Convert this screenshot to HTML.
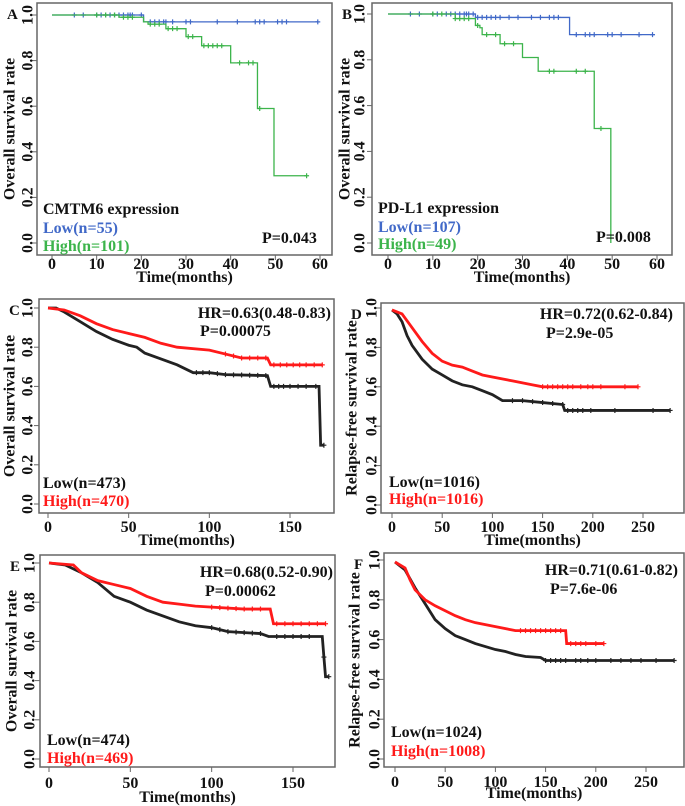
<!DOCTYPE html>
<html><head><meta charset="utf-8"><style>
body{margin:0;background:#fff;width:685px;height:806px;overflow:hidden}
svg{display:block;font-family:"Liberation Serif",serif;font-weight:bold}
</style></head><body>
<svg id="fig" width="685" height="806" viewBox="0 0 685 806"></svg>
<script>
// ---- data arrays ----
const aLowT=[0,20.5,59.5], aLowS=[1,0.97,0.97];
const aLowC=[5,7,10,11,12,13,14,15,16,17,17.5,18,20,22,23,24,25,25.5,27,30,31,37,41.5,45.5,46.5,47.5,50.5,51.5,52.5,59.5];
const aHighT=[0,15,20.5,21.5,25.5,30,33.5,40,46,49.7,57], aHighS=[1,0.99,0.97,0.96,0.94,0.905,0.865,0.79,0.59,0.295,0.295];
const aHighC=[10,12,14,16,17,18,22,23,24,26,27,28,30.5,31.5,34,35,36,37,38,42,44,45,46.5,57];
const bLowT=[0,19.5,40.5,59.5], bLowS=[1,0.985,0.91,0.91];
const bLowC=[5,7,10,11,13,14,15,16,17,17.5,18,19,20,21,22,23,24,25,27,29,32,34,36,37,38,42,44,45,46,49,50,52,56,59];
const bHighT=[0,15,19.5,20.5,21,25,30,33.5,46,49.7], bHighS=[1,0.98,0.95,0.94,0.91,0.87,0.81,0.75,0.5,0];
const bHighC=[10,12,15,16,17,18,20,22,24,26,28,36,37,42,44,47.5];
const cLowT=[0,5,10,20,30,40,50,55,60,70,80,90,100,110,136,138,168,169,171], cLowS=[1,1,0.98,0.93,0.88,0.84,0.81,0.8,0.77,0.74,0.71,0.67,0.67,0.66,0.655,0.6,0.6,0.3,0.3];
const cLowC=[92,96,100,105,110,115,120,125,130,135,140,143,146,150,155,160,166,171];
const cHighT=[0,10,20,30,40,50,60,70,80,100,110,120,136,138,170], cHighS=[1,0.99,0.96,0.92,0.89,0.87,0.85,0.82,0.8,0.785,0.765,0.745,0.745,0.71,0.71];
const cHighC=[110,115,120,125,130,135,140,144,148,152,156,160,165,170];
const dLowT=[0,5,10,15,20,30,40,50,60,70,80,90,100,110,130,150,170,172,277], dLowS=[0.99,0.97,0.93,0.86,0.81,0.74,0.69,0.66,0.63,0.61,0.6,0.58,0.56,0.53,0.53,0.52,0.51,0.48,0.48];
const dLowC=[120,130,140,150,160,170,175,180,185,190,198,222,260,277];
const dHighT=[0,10,20,30,40,50,60,70,80,90,100,120,140,150,245], dHighS=[0.99,0.97,0.9,0.83,0.77,0.73,0.71,0.7,0.68,0.66,0.65,0.63,0.61,0.6,0.6];
const dHighC=[150,155,160,165,170,175,180,188,195,200,208,232,245];
const eLowT=[0,10,20,30,40,50,60,70,80,90,100,110,130,135,168,169,170,172], eLowS=[1,0.99,0.95,0.9,0.83,0.8,0.76,0.73,0.7,0.68,0.67,0.65,0.64,0.625,0.625,0.52,0.42,0.42];
const eLowC=[100,105,110,115,120,125,130,140,145,150,155,160,169,172];
const eHighT=[0,15,20,30,40,50,60,70,80,90,100,120,136,138,170], eHighS=[1,0.99,0.95,0.91,0.89,0.87,0.83,0.8,0.79,0.78,0.775,0.765,0.765,0.69,0.69];
const eHighC=[100,105,110,115,120,125,130,140,145,150,155,160,165,170];
const fLowT=[0,10,20,30,40,50,60,70,80,90,100,110,120,130,145,150,278], fLowS=[0.99,0.95,0.86,0.78,0.7,0.655,0.62,0.6,0.58,0.565,0.55,0.54,0.525,0.515,0.51,0.495,0.495];
const fLowC=[150,155,160,165,170,180,185,192,200,215,225,235,245,260,278];
const fHighT=[0,10,15,20,30,40,50,60,70,80,90,100,115,120,170,171,208], fHighS=[0.99,0.96,0.9,0.85,0.8,0.77,0.745,0.72,0.7,0.685,0.675,0.665,0.65,0.645,0.645,0.58,0.58];
const fHighC=[125,130,135,140,145,150,155,160,165,175,180,185,190,200,208];
const yTicks=[0,0.2,0.4,0.6,0.8,1.0];
const xTicks60=[0,10,20,30,40,50,60], xTicks150=[0,50,100,150], xTicks250=[0,50,100,150,200,250];

const NS="http://www.w3.org/2000/svg", svg=document.getElementById('fig');
function el(tag,attrs,parent,text){const e=document.createElementNS(NS,tag);for(const k in attrs)e.setAttribute(k,attrs[k]);if(text!==undefined)e.textContent=text;(parent||svg).appendChild(e);return e;}

const BLUE="#4169c8",GREEN="#3cb44b",RED="#ff1a1a",BLK="#222";
const panels=[
 {id:'a',L:'A',box:[37,3,332,255],x0:52,x1:320,xmax:60,y1:15,y0:243,xt:xTicks60,tickY:269,titleY:282,ylx:28,ytx:10,ytitle:'Overall survival rate',
  s:[[aLowT,aLowS,aLowC,BLUE,'step'],[aHighT,aHighS,aHighC,GREEN,'step']],
  texts:[['CMTM6 expression',43,214,'#111','start'],['Low(n=55)',43,233,BLUE,'start'],['High(n=101)',43,251,GREEN,'start'],['P=0.043',262,243,'#111','start']]},
 {id:'b',L:'B',box:[372,3,672,255],x0:388,x1:657,xmax:60,y1:14,y0:243,xt:xTicks60,tickY:269,titleY:282,ylx:360,ytx:345,ytitle:'Overall survival rate',
  s:[[bLowT,bLowS,bLowC,BLUE,'step'],[bHighT,bHighS,bHighC,GREEN,'step']],
  texts:[['PD-L1 expression',378,213,'#111','start'],['Low(n=107)',378,232,BLUE,'start'],['High(n=49)',378,249,GREEN,'start'],['P=0.008',596,242,'#111','start']]},
 {id:'c',L:'C',box:[39,299,334,513],x0:48,x1:290,xmax:150,y1:308,y0:504,xt:xTicks150,tickY:532,titleY:545,ylx:28,ytx:10,ytitle:'Overall survival rate',
  s:[[cLowT,cLowS,cLowC,BLK,'line'],[cHighT,cHighS,cHighC,RED,'line']],
  texts:[['HR=0.63(0.48-0.83)',331,318,'#111','end'],['P=0.00075',200,336,'#111','start'],['Low(n=473)',43,488,'#111','start'],['High(n=470)',43,506,RED,'start']]},
 {id:'d',L:'D',box:[381,303,684,513],x0:392,x1:643,xmax:250,y1:308,y0:505,xt:xTicks250,tickY:532,titleY:545,ylx:372,ytx:352,ytitle:'Relapse-free survival rate',
  s:[[dLowT,dLowS,dLowC,BLK,'line'],[dHighT,dHighS,dHighC,RED,'line']],
  texts:[['HR=0.72(0.62-0.84)',673,319,'#111','end'],['P=2.9e-05',546,338,'#111','start'],['Low(n=1016)',389,487,'#111','start'],['High(n=1016)',389,504,RED,'start']]},
 {id:'e',L:'E',box:[40,555,335,767],x0:49,x1:293,xmax:150,y1:563,y0:759,xt:xTicks150,tickY:788,titleY:802,ylx:30,ytx:12,ytitle:'Overall survival rate',
  s:[[eLowT,eLowS,eLowC,BLK,'line'],[eHighT,eHighS,eHighC,RED,'line']],
  texts:[['HR=0.68(0.52-0.90)',333,577,'#111','end'],['P=0.00062',205,596,'#111','start'],['Low(n=474)',47,745,'#111','start'],['High(n=469)',47,763,RED,'start']]},
 {id:'f',L:'F',box:[384,553,684,767],x0:395,x1:646,xmax:250,y1:560,y0:759,xt:xTicks250,tickY:787,titleY:798,ylx:375,ytx:355,ytitle:'Relapse-free survival rate',
  s:[[fLowT,fLowS,fLowC,BLK,'line'],[fHighT,fHighS,fHighC,RED,'line']],
  texts:[['HR=0.71(0.61-0.82)',678,575,'#111','end'],['P=7.6e-06',550,594,'#111','start'],['Low(n=1024)',391,737,'#111','start'],['High(n=1008)',391,756,RED,'start']]}
];
function interp(T,S,t){let v=S[0];for(let i=0;i<T.length;i++){if(T[i]<=t)v=S[i];}return v;}
panels.forEach(p=>{
  const g=el('g',{});
  
  
  const X=t=>p.x0+(p.x1-p.x0)*t/p.xmax, Y=v=>p.y0+(p.y1-p.y0)*v;
  const [bl,bt,br,bb]=p.box;
  const box=el('rect',{x:bl,y:bt,width:br-bl,height:bb-bt,fill:'none',stroke:'#666','stroke-width':1.5},g);
  
  
  const lt=el('text',{x:bl-30,y:bt+16,'font-size':15,fill:'#111'},g,p.L);
  
  
  yTicks.forEach(v=>{
    el('line',{x1:bl-5,x2:bl,y1:Y(v),y2:Y(v),stroke:'#666'},g);
    const t=el('text',{x:p.ylx,y:Y(v),'font-size':16,'text-anchor':'middle','dominant-baseline':'central',fill:'#111',transform:`rotate(-90 ${p.ylx} ${Y(v)})`},g,v.toFixed(1));
    
    
  });
  p.xt.forEach(v=>{
    el('line',{x1:X(v),x2:X(v),y1:bb,y2:bb+5,stroke:'#666'},g);
    const t=el('text',{x:X(v),y:p.tickY,'font-size':16,'text-anchor':'middle',fill:'#111'},g,String(v));
    
    
  });
  const xt=el('text',{x:(bl+br)/2,y:p.titleY,'font-size':16,'text-anchor':'middle',fill:'#111'},g,'Time(months)');
  
  
  const cy=(bt+bb)/2;
  const yt=el('text',{x:p.ytx,y:cy,'font-size':16,'text-anchor':'middle','dominant-baseline':'central',fill:'#111',transform:`rotate(-90 ${p.ytx} ${cy})`},g,p.ytitle);
  
  
  p.s.forEach(([T,S,C,col,mode],si)=>{
    let d='M'+X(T[0])+','+Y(S[0]);
    for(let i=1;i<T.length;i++){
      if(mode==='step')d+=' H'+X(T[i])+' V'+Y(S[i]);
      else d+=' L'+X(T[i])+','+Y(S[i]);
    }
    const path=el('path',{d,fill:'none',stroke:col,'stroke-width':mode==='step'?1.3:2.8},g);
    
    
    C.forEach(c=>{
      const cx=X(c), cyv=Y(mode==='step'?interp(T,S,c):(()=>{for(let i=1;i<T.length;i++){if(c<=T[i]){const f=(c-T[i-1])/((T[i]-T[i-1])||1);return S[i-1]+(S[i]-S[i-1])*f;}}return S[S.length-1];})());
      const m=el('path',{d:`M${cx-2.5},${cyv}H${cx+2.5}M${cx},${cyv-2.5}V${cyv+2.5}`,stroke:col,'stroke-width':1.2},g);
      
      
    });
  });
  p.texts.forEach(([s,x,y,c,a])=>{
    const t=el('text',{x,y,'font-size':16,fill:c,'text-anchor':a},g,s);
    
    
  });
});
</script>
</body></html>
